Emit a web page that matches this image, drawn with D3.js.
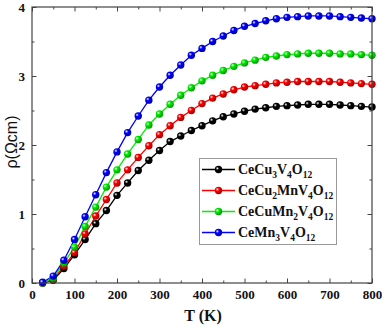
<!DOCTYPE html>
<html>
<head>
<meta charset="utf-8">
<script src="https://d3js.org/d3.v7.min.js"></script>
<style>
  html, body { margin: 0; padding: 0; background: #fff; }
  svg { display: block; }
</style>
</head>
<body>
<svg id="chart" width="382" height="326"></svg>
<script>
const temps = [25,50,75,100,125,150,175,200,225,250,275,300,325,350,375,400,425,450,475,500,525,550,575,600,625,650,675,700,725,750,775,800];
const rhoCeCu3V4O12 = [0.00,0.04,0.21,0.41,0.63,0.86,1.05,1.27,1.45,1.63,1.78,1.92,2.05,2.13,2.21,2.28,2.35,2.41,2.45,2.49,2.52,2.54,2.56,2.57,2.58,2.59,2.59,2.59,2.58,2.57,2.56,2.55];
const rhoCeCu2MnV4O12 = [0.00,0.05,0.245,0.44,0.71,0.97,1.21,1.45,1.64,1.82,1.99,2.15,2.28,2.40,2.50,2.60,2.68,2.74,2.80,2.84,2.86,2.88,2.90,2.91,2.92,2.92,2.92,2.92,2.91,2.90,2.89,2.88];
const rhoCeCuMn2V4O12 = [0.00,0.07,0.29,0.52,0.82,1.10,1.39,1.64,1.87,2.08,2.29,2.45,2.59,2.72,2.83,2.93,3.01,3.08,3.14,3.19,3.23,3.27,3.29,3.31,3.32,3.33,3.33,3.33,3.32,3.32,3.31,3.30];
const rhoCeMn3V4O12 = [0.01,0.10,0.33,0.63,0.96,1.28,1.60,1.90,2.18,2.42,2.65,2.84,3.01,3.16,3.30,3.40,3.50,3.58,3.66,3.72,3.76,3.80,3.83,3.85,3.86,3.87,3.87,3.87,3.86,3.85,3.84,3.83];

// legend labels as [text, isSubscript] parts
const seriesLabels = [
  [["CeCu",0],["3",1],["V",0],["4",1],["O",0],["12",1]],
  [["CeCu",0],["2",1],["MnV",0],["4",1],["O",0],["12",1]],
  [["CeCuMn",0],["2",1],["V",0],["4",1],["O",0],["12",1]],
  [["CeMn",0],["3",1],["V",0],["4",1],["O",0],["12",1]]
];
const seriesColors = ["#000000", "#ff0000", "#00ee00", "#0000ff"];
const seriesValues = [rhoCeCu3V4O12, rhoCeCu2MnV4O12, rhoCeCuMn2V4O12, rhoCeMn3V4O12];

const xTicks = [0,100,200,300,400,500,600,700,800];
const xMinor = [50,150,250,350,450,550,650,750];
const yTicks = [0,1,2,3,4];
const yMinor = [0.5,1.5,2.5,3.5];

const svg = d3.select("#chart");
const L = 32, R = 372, T = 7, B = 283;
const x = d3.scaleLinear().domain([0, 800]).range([L, R]);
const y = d3.scaleLinear().domain([0, 4]).range([B, T]);

const axisColor = "#444";
const serif = "'Liberation Serif', 'Times New Roman', serif";

// gradients for 3D-looking markers
const defs = svg.append("defs");
seriesColors.forEach((c, i) => {
  const g = defs.append("radialGradient").attr("id", "g" + i)
    .attr("cx", "35%").attr("cy", "35%").attr("r", "65%");
  g.append("stop").attr("offset", "0%").attr("stop-color", "#ffffff");
  g.append("stop").attr("offset", "35%").attr("stop-color", c);
  g.append("stop").attr("offset", "100%").attr("stop-color", d3.color(c).darker(1.2));
});

// data lines and markers
const line = d3.line().x((d, i) => x(temps[i])).y(d => y(d));
seriesValues.forEach((vals, si) => {
  svg.append("path").datum(vals)
    .attr("d", line)
    .attr("fill", "none")
    .attr("stroke", seriesColors[si])
    .attr("stroke-width", 1.3);
});
seriesValues.forEach((vals, si) => {
  svg.append("g").selectAll("circle").data(vals).join("circle")
    .attr("cx", (d, i) => x(temps[i]))
    .attr("cy", d => y(d))
    .attr("r", 3.7)
    .attr("fill", `url(#g${si})`);
});

// axes
function styleAxis(g) {
  g.select(".domain").remove();
  g.selectAll(".tick line").attr("stroke", axisColor).attr("stroke-width", 1);
  g.selectAll("text").attr("font-family", serif).attr("font-weight", "bold")
    .attr("font-size", "13px").attr("fill", "#111");
}
svg.append("g").attr("transform", `translate(0,${B})`)
  .call(d3.axisBottom(x).tickValues(xTicks).tickSize(-4.5).tickPadding(7).tickFormat(d3.format("d")))
  .call(styleAxis);
svg.append("g").attr("transform", `translate(0,${B})`)
  .call(d3.axisBottom(x).tickValues(xMinor).tickSize(-2.5).tickFormat(""))
  .call(styleAxis);
svg.append("g").attr("transform", `translate(0,${T})`)
  .call(d3.axisTop(x).tickValues(xTicks).tickSize(-4.5).tickFormat(""))
  .call(styleAxis);
svg.append("g").attr("transform", `translate(0,${T})`)
  .call(d3.axisTop(x).tickValues(xMinor).tickSize(-2.5).tickFormat(""))
  .call(styleAxis);
svg.append("g").attr("transform", `translate(${L},0)`)
  .call(d3.axisLeft(y).tickValues(yTicks).tickSize(-4.5).tickPadding(7).tickFormat(d3.format("d")))
  .call(styleAxis);
svg.append("g").attr("transform", `translate(${L},0)`)
  .call(d3.axisLeft(y).tickValues(yMinor).tickSize(-2.5).tickFormat(""))
  .call(styleAxis);
svg.append("g").attr("transform", `translate(${R},0)`)
  .call(d3.axisRight(y).tickValues(yTicks).tickSize(-4.5).tickFormat(""))
  .call(styleAxis);
svg.append("g").attr("transform", `translate(${R},0)`)
  .call(d3.axisRight(y).tickValues(yMinor).tickSize(-2.5).tickFormat(""))
  .call(styleAxis);

// frame
svg.append("rect").attr("x", L).attr("y", T).attr("width", R - L).attr("height", B - T)
  .attr("fill", "none").attr("stroke", axisColor).attr("stroke-width", 1.2);

// axis titles
svg.append("text").attr("x", 203).attr("y", 321).attr("text-anchor", "middle")
  .attr("font-family", serif).attr("font-weight", "bold").attr("font-size", "16px")
  .attr("fill", "#111").text("T (K)");
svg.append("text").attr("transform", "translate(17,142) rotate(-90)")
  .attr("text-anchor", "middle")
  .attr("font-family", "'Liberation Sans', Arial, sans-serif").attr("font-size", "16px")
  .attr("fill", "#111").text("ρ(Ωcm)");

// legend
const lg = svg.append("g");
lg.append("rect").attr("x", 199.5).attr("y", 158.5).attr("width", 137).attr("height", 86)
  .attr("fill", "#fff").attr("stroke", "#999").attr("stroke-width", 1);
seriesLabels.forEach((parts, i) => {
  const yy = 169.5 + i * 21;
  lg.append("line").attr("x1", 202).attr("x2", 235).attr("y1", yy).attr("y2", yy)
    .attr("stroke", seriesColors[i]).attr("stroke-width", 1.3);
  lg.append("circle").attr("cx", 218.5).attr("cy", yy).attr("r", 3.7)
    .attr("fill", `url(#g${i})`);
  const t = lg.append("text").attr("x", 238).attr("y", yy + 4.5)
    .attr("font-family", serif).attr("font-weight", "bold").attr("font-size", "14px")
    .attr("fill", "#111");
  let prevSub = false;
  parts.forEach(([s, sub]) => {
    const ts = t.append("tspan").text(s);
    if (sub) { ts.attr("font-size", "9.5px").attr("dy", prevSub ? 0 : 3.5); }
    else { ts.attr("dy", prevSub ? -3.5 : 0); }
    prevSub = !!sub;
  });
});
</script>
</body>
</html>
